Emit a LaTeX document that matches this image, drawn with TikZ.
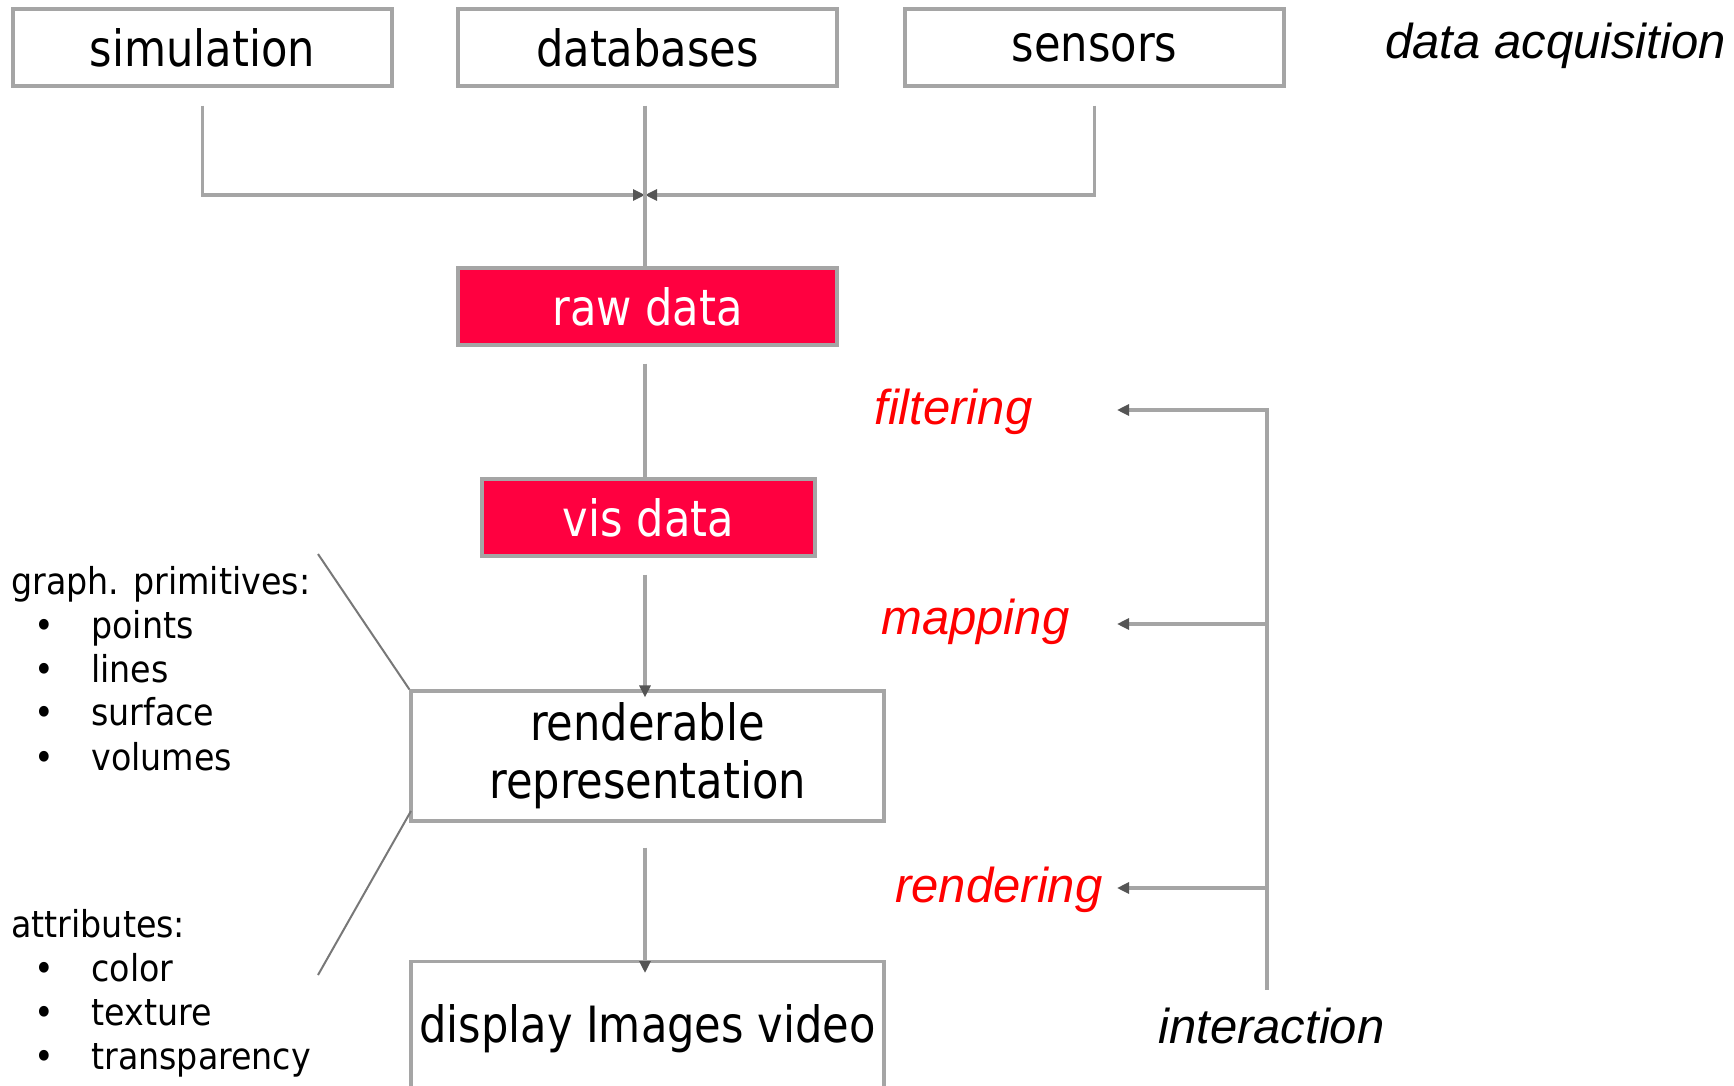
\documentclass[tikz,border=0pt]{standalone}
\usepackage{fontspec}
\setmainfont{DejaVu Sans Condensed}
\newfontfamily\boxfont[FakeStretch=0.96]{DejaVu Sans Condensed}
\newfontfamily\labelfont{Liberation Sans}
\usetikzlibrary{arrows.meta}
\definecolor{linegray}{RGB}{165,165,165}
\definecolor{tipgray}{RGB}{85,85,85}
\definecolor{diaggray}{RGB}{120,120,120}
\definecolor{hotred}{RGB}{255,0,64}
\definecolor{labelred}{RGB}{255,0,0}
\tikzset{
  boxtext/.style={font=\boxfont\fontsize{25pt}{29pt}\selectfont},
  stagebox/.style={boxtext,draw=linegray,line width=1.6pt,inner sep=0pt,
    minimum width=189.5pt,minimum height=38.5pt,align=center},
  hotbox/.style={stagebox,fill=hotred,text=white},
  link/.style={draw=linegray,line width=1.6pt},
  tip/.style={-{Triangle[length=6pt,width=5.5pt,color=tipgray]}},
  diag/.style={draw=diaggray,line width=1pt},
  listtxt/.style={font=\fontsize{18.5pt}{22pt}\selectfont,inner sep=0pt,anchor=base west},
  bullet/.style={font=\fontsize{18.5pt}{22pt}\selectfont,inner sep=0pt,anchor=base},
  steplabel/.style={font=\labelfont\itshape\fontsize{24.5pt}{29pt}\selectfont,
    text=labelred,inner sep=0pt,anchor=base west},
  sidelabel/.style={steplabel,text=black}
}
\begin{document}
\begin{tikzpicture}[x=0.5pt,y=-0.5pt]
\useasboundingbox (0,0) rectangle (1734,1086);
\clip (0,0) rectangle (1734,1086);

% data sources
\node[stagebox] (sim) at (202.5,47.5) {simulation};
\node[stagebox] (db)  at (647.5,47.5) {\raisebox{-2.5pt}{databases}};
\node[stagebox] (sen) at (1094.5,47.5) {sensors};
\node[sidelabel] (acq) at (1385,59) {data acquisition};

% pipeline stages
\node[hotbox] (raw) at (647.5,306.5) {raw data};
\node[hotbox,minimum width=166.5pt] (vis) at (648.5,517.5) {vis data};
\node[stagebox,minimum width=236.5pt,minimum height=65pt] (rend) at (647.5,756)
  {renderable\\representation};
\node[stagebox,minimum width=236.5pt,minimum height=67.5pt,anchor=north] (disp)
  at (647.5,960) {display Images video};

% merging the sources (the spine runs slightly left of the box centres)
\tikzset{spine/.style={xshift=-1.25pt}}
\coordinate (junc) at ([spine]db.south |- 0,195);
\draw[link,tip,shorten <=9pt] (sim.south) |- (junc);
\draw[link,tip,shorten <=9pt] (sen.south) |- (junc);
\draw[link,shorten <=9pt] ([spine]db.south) -- (junc);
\draw[link] (junc) -- ([spine]raw.north);

% stage to stage
\draw[link,shorten <=8.5pt] ([spine]raw.south) -- ([spine]raw.south |- vis.north);
\draw[link,tip,shorten <=8.5pt,shorten >=-4pt] ([spine]raw.south |- vis.south) -- ([spine]rend.north);
\draw[link,tip,shorten <=12.5pt,shorten >=-6.5pt] ([spine]rend.south) -- ([spine]disp.north);

% interaction feedback
\coordinate (itop) at (1267,410);
\coordinate (ibot) at (1267,990);
\coordinate (mapj) at (1267,624);
\coordinate (renj) at (1267,888);
\coordinate (filend) at (1117,410);
\coordinate (mapend) at (1117,624);
\coordinate (renend) at (1117,888);
\draw[link,tip] (ibot) -- (itop) -- (filend);
\draw[link,tip] (mapj) -- (mapend);
\draw[link,tip] (renj) -- (renend);

\node[steplabel] (filt) at (874,424) {filtering};
\node[steplabel] (mapp) at (881,634) {mapping};
\node[steplabel] (rndr) at (895,902) {rendering};
\node[sidelabel] (inter) at (1158,1043) {interaction};

% annotations on the renderable representation
\coordinate (gpend) at (318,554);
\coordinate (atend) at (318,975);
\coordinate (rendlow) at (411,811);
\draw[diag] (gpend) -- (rend.north west);
\draw[diag] (rendlow) -- (atend);

\node[listtxt] (gp) at (11,594) {graph. primitives:};
\node[bullet] (b1) at (44,638) {•};
\node[listtxt] (g1) at (91,638) {points};
\node[bullet] (b2) at (44,682) {•};
\node[listtxt] (g2) at (91,682) {lines};
\node[bullet] (b3) at (44,725) {•};
\node[listtxt] (g3) at (91,725) {surface};
\node[bullet] (b4) at (44,770) {•};
\node[listtxt] (g4) at (91,770) {volumes};

\node[listtxt] (at) at (11,937) {attributes:};
\node[bullet] (c1) at (44,981) {•};
\node[listtxt] (a1) at (91,981) {color};
\node[bullet] (c2) at (44,1025) {•};
\node[listtxt] (a2) at (91,1025) {texture};
\node[bullet] (c3) at (44,1069) {•};
\node[listtxt] (a3) at (91,1069) {transparency};
\end{tikzpicture}
\end{document}
